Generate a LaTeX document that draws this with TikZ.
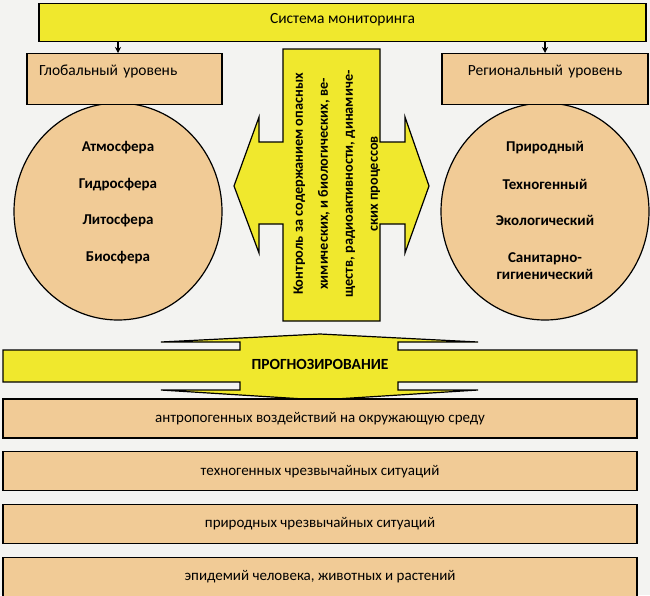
\documentclass[tikz,border=0pt]{standalone}
\usepackage{fontspec}
\setmainfont{Carlito}
\usetikzlibrary{arrows.meta, calc, positioning, shapes.geometric}

\definecolor{tanfill}{RGB}{241,203,150}
\definecolor{yelfill}{RGB}{240,232,45}
\definecolor{paper}{RGB}{243,243,241}

\begin{document}
\begin{tikzpicture}[x=1pt, y=-1pt, >={Stealth[length=6pt, width=6pt]}, line width=1.2pt,
  every node/.style={font=\fontsize{15.5}{17}\selectfont, inner sep=0pt},
  tanbox/.style={draw, fill=tanfill},
  yelbox/.style={draw, fill=yelfill},
  item/.style={font=\fontsize{15}{17}\selectfont\bfseries, align=center},
  levelbox/.style={tanbox, minimum width=195, text height=22pt, text depth=29pt, anchor=north},
  forecast/.style={tanbox, minimum width=634, minimum height=39, font=\fontsize{15}{17}\selectfont}]
  % фон
  \fill[paper] (0,0) rectangle (650,595);
  \useasboundingbox (0,0) rectangle (650,595);
  % система мониторинга
  \node[yelbox, minimum width=607, text height=20pt, text depth=18pt, anchor=north] (monitor) at (342.5,3) {Система мониторинга};
  % круги
  \node[tanbox, ellipse, minimum width=208, minimum height=217] (globe) at (118,211.5) {};
  \node[tanbox, ellipse, minimum width=208, minimum height=217] (region) at (545,211.5) {};
  \node[item] (atm) at (118,148) {Атмосфера};
  \node[item] (hyd) at (118,185) {Гидросфера};
  \node[item] (lit) at (118,221) {Литосфера};
  \node[item] (bio) at (118,258) {Биосфера};
  \node[item] (nat) at (545,148) {Природный};
  \node[item] (tech) at (545,184) {Техногенный};
  \node[item] (eco) at (545,220) {Экологический};
  \node[item] (san) at (545,266) {Санитарно-\\гигиенический};
  % уровни
  \node[levelbox, text width=171, align=left] (global) at (124.5,53) {Глобальный уровень};
  \node[levelbox, minimum width=206, text width=180, align=center] (regional) at (545,53) {Региональный уровень};
  \draw[->] (monitor.south -| globe.center) -- (global.north -| globe.center);
  \draw[->] (monitor.south -| region.center) -- (regional.north -| region.center);
  % контроль: двойная стрелка
  \draw[fill=yelfill, line join=miter] (283,49) -- (380,49) -- (380,142) -- (405,142) -- (405,117)
    -- (429,186) -- (405,253) -- (405,224) -- (380,224) -- (380,321) -- (283,321) -- (283,224)
    -- (259,224) -- (259,253) -- (234,186) -- (259,117) -- (259,142) -- (283,142) -- cycle;
  \node[rotate=90, align=center, font=\fontsize{14.3}{25}\selectfont\bfseries] (control) at (337,184)
    {Контроль за содержанием опасных\\химических, и биологических, ве-\\ществ, радиоактивности, динамиче-\\ских процессов};
  % прогнозирование
  \draw[fill=yelfill, line join=miter] (3,350) -- (240,350) -- (240,342) -- (161,342) -- (320,334)
    -- (478,342) -- (398,342) -- (398,350) -- (637,350) -- (637,382) -- (398,382) -- (398,390)
    -- (478,390) -- (320,400) -- (161,390) -- (240,390) -- (240,382) -- (3,382) -- cycle;
  \node[font=\fontsize{15.5}{17}\selectfont\bfseries] (prog) at (320,364) {ПРОГНОЗИРОВАНИЕ};
  \node[forecast] (anthro) at (320,418.5) {антропогенных воздействий на окружающую среду};
  \node[forecast, below=12.5pt of anthro] (techem) {техногенных чрезвычайных ситуаций};
  \node[forecast, below=12.5pt of techem] (natem) {природных чрезвычайных ситуаций};
  \node[forecast, below=12.5pt of natem] (epid) {эпидемий человека, животных и растений};
\end{tikzpicture}
\end{document}
